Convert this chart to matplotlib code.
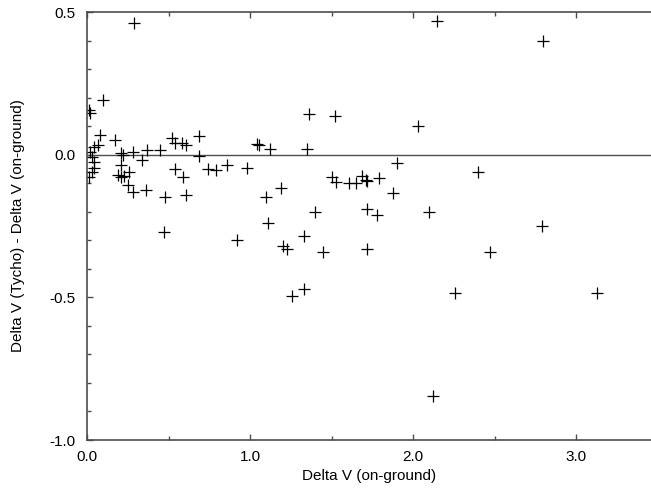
import matplotlib.pyplot as plt
from matplotlib.ticker import MultipleLocator, FormatStrFormatter

# Delta V (on-ground) vs difference Tycho - on-ground
dv_ground = [
    0.29, 2.15, 2.80, 0.01, 0.02, 0.10, 0.08, 0.07, 0.04, 0.02, 0.03,
    0.04, 0.04, 0.03, 0.01, 0.17, 0.21, 0.22, 0.28, 0.37, 0.45, 0.34,
    0.21, 0.26, 0.19, 0.21, 0.23, 0.25, 0.28, 0.36, 0.48, 0.47, 0.52,
    0.54, 0.58, 0.61, 0.69, 0.69, 0.54, 0.59, 0.61, 0.74, 0.79, 0.86,
    0.98, 0.92, 1.04, 1.055, 1.12, 1.10, 1.11, 1.19, 1.20, 1.23, 1.36,
    1.52, 1.35, 1.33, 1.26, 1.33, 1.40, 1.45, 1.50, 1.53, 1.61, 1.65,
    1.69, 1.71, 1.72, 1.79, 1.88, 1.90, 1.72, 1.78, 1.72, 2.03, 2.40,
    2.10, 2.26, 2.47, 2.12, 2.79, 3.13,
]
delta_diff = [
    0.46, 0.47, 0.40, 0.155, 0.145, 0.19, 0.069, 0.034, 0.027, 0.01, -0.008,
    -0.025, -0.045, -0.06, -0.08, 0.05, 0.005, -0.0, 0.01, 0.015, 0.015, -0.02,
    -0.035, -0.06, -0.07, -0.08, -0.075, -0.105, -0.13, -0.125, -0.15, -0.27, 0.058,
    0.04, 0.04, 0.034, 0.065, -0.005, -0.05, -0.08, -0.14, -0.05, -0.053, -0.036,
    -0.045, -0.30, 0.037, 0.034, 0.02, -0.148, -0.24, -0.117, -0.32, -0.33, 0.142,
    0.136, 0.02, -0.285, -0.495, -0.47, -0.20, -0.34, -0.08, -0.095, -0.10, -0.10,
    -0.075, -0.09, -0.093, -0.083, -0.135, -0.03, -0.19, -0.21, -0.33, 0.10, -0.06,
    -0.20, -0.485, -0.34, -0.846, -0.25, -0.485,
]

plt.rcParams['font.family'] = ['Liberation Sans', 'DejaVu Sans']
axis_grey = '#4d4d4d'

fig = plt.figure(figsize=(6.51, 4.93), dpi=100)
ax = fig.add_axes([87 / 651, 53 / 493, 564 / 651, 428 / 493])

ax.plot(dv_ground, delta_diff, linestyle='none', marker='+', markersize=9,
        markeredgewidth=0.9, color='black')
ax.axhline(0.0, color=axis_grey, linewidth=1.0, zorder=0)

ax.set_xlim(0.0, 3.46)
ax.set_ylim(-1.0, 0.5)

ax.xaxis.set_major_locator(MultipleLocator(1.0))
ax.xaxis.set_minor_locator(MultipleLocator(0.5))
ax.yaxis.set_major_locator(MultipleLocator(0.5))
ax.yaxis.set_minor_locator(MultipleLocator(0.1))
ax.xaxis.set_major_formatter(FormatStrFormatter('%.1f'))
ax.yaxis.set_major_formatter(FormatStrFormatter('%.1f'))

ax.tick_params(which='both', direction='in', top=True, right=False,
               color=axis_grey, width=1.0, labelsize=11)
ax.tick_params(axis='x', pad=7)
ax.tick_params(axis='y', pad=8)
ax.tick_params(which='major', length=4)
ax.tick_params(which='minor', length=3)

for side in ['left', 'bottom', 'top']:
    ax.spines[side].set_color(axis_grey)
    ax.spines[side].set_linewidth(1.2)
ax.spines['right'].set_visible(False)

ax.set_xlabel('Delta V (on-ground)', fontsize=11)
ax.set_ylabel('Delta V (Tycho) - Delta V (on-ground)', fontsize=11)
ax.xaxis.set_label_coords(0.5, -0.068)
ax.yaxis.set_label_coords(-0.11, 0.5)

fig.savefig('out.png', dpi=100)
